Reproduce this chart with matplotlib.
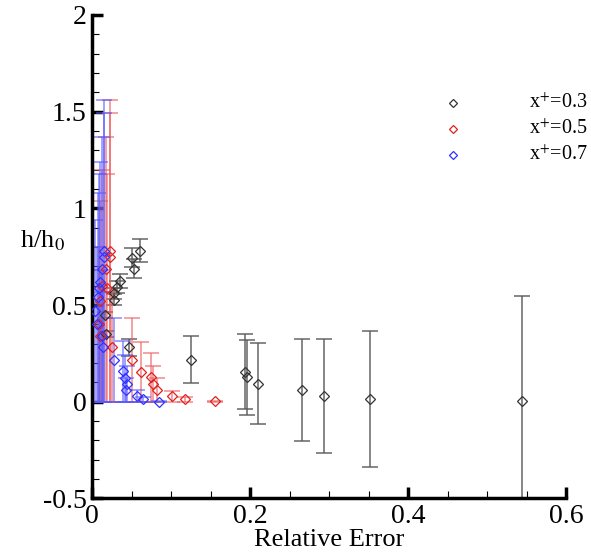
import matplotlib
matplotlib.use("Agg")
import matplotlib.pyplot as plt
from matplotlib.lines import Line2D

plt.rcParams['font.family'] = ['Liberation Serif', 'DejaVu Serif']
plt.rcParams['mathtext.fontset'] = 'stix'

# x+ = 0.3 (black)
x03 = [0.060, 0.050, 0.053, 0.035, 0.032, 0.028, 0.028, 0.016, 0.018, 0.046,
       0.125, 0.193, 0.196, 0.210, 0.266, 0.293, 0.352, 0.544]
y03 = [0.781, 0.745, 0.688, 0.624, 0.592, 0.561, 0.528, 0.450, 0.350, 0.281,
       0.217, 0.155, 0.126, 0.093, 0.062, 0.029, 0.014, 0.002]
e03 = [0.060, 0.050, 0.050, 0.035, 0.030, 0.028, 0.028, 0.015, 0.017, 0.045,
       0.122, 0.193, 0.195, 0.210, 0.263, 0.294, 0.352, 0.544]

# x+ = 0.5 (red)
x05 = [0.023, 0.023, 0.018, 0.019, 0.012, 0.010, 0.008, 0.010, 0.025, 0.050,
       0.062, 0.075, 0.077, 0.082, 0.101, 0.117, 0.156]
y05 = [0.780, 0.747, 0.685, 0.590, 0.600, 0.520, 0.400, 0.340, 0.283, 0.217,
       0.155, 0.126, 0.093, 0.062, 0.027, 0.012, 0.002]
e05 = [0.780, 0.747, 0.685, 0.590, 0.600, 0.520, 0.400, 0.340, 0.283, 0.217,
       0.155, 0.126, 0.093, 0.062, 0.027, 0.012, 0.003]

# x+ = 0.7 (blue)
x07 = [0.015, 0.015, 0.012, 0.010, 0.009, 0.007, 0.004, 0.006, 0.012, 0.014,
       0.028, 0.039, 0.042, 0.044, 0.043, 0.057, 0.064, 0.085]
y07 = [0.780, 0.747, 0.685, 0.620, 0.590, 0.540, 0.470, 0.400, 0.340, 0.283,
       0.217, 0.157, 0.121, 0.092, 0.062, 0.030, 0.013, 0.001]
e07 = [0.780, 0.747, 0.685, 0.620, 0.590, 0.540, 0.470, 0.400, 0.340, 0.283,
       0.217, 0.157, 0.121, 0.092, 0.062, 0.030, 0.013, 0.001]

labels = ['x$^{+}$=0.3', 'x$^{+}$=0.5', 'x$^{+}$=0.7']
colors = ['#333333', '#e02020', '#3030ff']

fig = plt.figure(figsize=(5.91, 5.55), dpi=100)
ax = fig.add_axes([0.156, 0.102, 0.802, 0.871])

series = [
    (x03, y03, e03, colors[0], (0.35, 0.35, 0.35, 0.85)),
    (x05, y05, e05, colors[1], (0.92, 0.35, 0.35, 0.65)),
    (x07, y07, e07, colors[2], (0.35, 0.35, 1.0, 0.65)),
]
for xs, ys, es, mc, ec in series:
    ax.errorbar(xs, ys, yerr=es, fmt='none', ecolor=ec, elinewidth=1.2,
                capsize=6, capthick=1.2, zorder=2)
    ax.plot(xs, ys, linestyle='none', marker='D', markersize=5.5,
            markerfacecolor='none', markeredgecolor=mc, markeredgewidth=0.9,
            zorder=3)

ax.set_xlim(0, 0.6)
ax.set_ylim(-0.5, 2)
ax.set_xticks([0, 0.2, 0.4, 0.6])
ax.set_xticklabels(['0', '0.2', '0.4', '0.6'])
ax.set_yticks([-0.5, 0, 0.5, 1, 1.5, 2])
ax.set_yticklabels(['-0.5', '0', '0.5', '1', '1.5', '2'])
ax.set_xticks([i * 0.05 for i in range(13)], minor=True)
ax.set_yticks([-0.5 + i * 0.1 for i in range(26)], minor=True)

for s in ['top', 'right']:
    ax.spines[s].set_visible(False)
for s in ['left', 'bottom']:
    ax.spines[s].set_linewidth(2.5)
ax.tick_params(which='major', direction='in', length=8, width=2.5,
               labelsize=20, pad=4)
ax.tick_params(which='minor', direction='in', length=5, width=0.8)

ax.set_xlabel('Relative Error', fontsize=19, labelpad=0)
fig.text(0.034, 0.567, 'h/h$_0$', fontsize=19, ha='left', va='center')

# legend placed manually
row_y = [0.814, 0.767, 0.721]
for c, lab, yy in zip(colors, labels, row_y):
    fig.add_artist(Line2D([0.766], [yy], transform=fig.transFigure,
                          linestyle='none', marker='D', markersize=4,
                          markerfacecolor='none', markeredgecolor=c,
                          markeredgewidth=0.9))
    fig.text(0.895, yy, lab, fontsize=14.5, ha='left', va='center')

fig.savefig('out.png', dpi=100)
